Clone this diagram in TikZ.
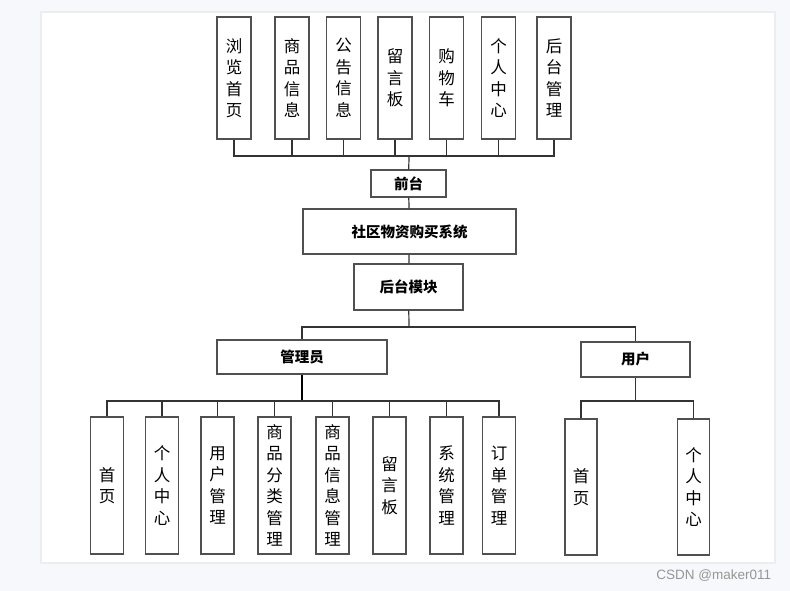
\documentclass[tikz,border=0pt]{standalone}
\usepackage{fontspec}
\setmainfont{Noto Sans CJK SC}
\setsansfont{Liberation Sans}
\usepackage{tikz}

\definecolor{pagebg}{RGB}{247,248,251}
\definecolor{boxline}{RGB}{80,80,80}
\definecolor{wmark}{RGB}{150,150,150}

\begin{document}
\begin{tikzpicture}[x=1pt,y=-1pt,line width=1.2pt,
    vbox/.style={draw=boxline,fill=white,minimum width=34pt,minimum height=122pt,
                 align=center,inner sep=0pt,font=\fontsize{16.5}{21.5}\selectfont},
    bbox/.style={vbox,minimum width=33pt,minimum height=137pt},
    hbox/.style={draw=boxline,fill=white,inner sep=0pt,font=\fontsize{14.5}{16}\selectfont\bfseries}]
      \fill[pagebg] (0,0) rectangle (790,591);
      \fill[white] (41,12) rectangle (775,563);
      \draw[black!7,line width=1.5pt] (41,12) rectangle (775,563);

      % front end
      \node[vbox] (t1) at (234,78)   {浏\\览\\首\\页};
      \node[vbox] (t2) at (292,78)   {商\\品\\信\\息};
      \node[vbox] (t3) at (343.5,78) {公\\告\\信\\息};
      \node[vbox] (t4) at (395,78)   {留\\言\\板};
      \node[vbox] (t5) at (446.5,78) {购\\物\\车};
      \node[vbox] (t6) at (498.5,78) {个\\人\\中\\心};
      \node[vbox] (t7) at (554,78)   {后\\台\\管\\理};

      \node[hbox,minimum width=75pt,minimum height=27pt]  (qt)  at (408.5,183.5) {前台};
      \node[hbox,minimum width=213pt,minimum height=45pt] (sys) at (409.5,231.5) {社区物资购买系统};
      \node[hbox,minimum width=109pt,minimum height=46pt] (hmk) at (408.5,287)   {后台模块};
      \node[hbox,minimum width=170pt,minimum height=34pt] (gly) at (302,357)     {管理员};
      \node[hbox,minimum width=109pt,minimum height=35pt] (yh)  at (635.5,359.5) {用户};

      % back end
      \node[bbox] (a1) at (107,485.5)   {首\\页};
      \node[bbox] (a2) at (162,485.5)   {个\\人\\中\\心};
      \node[bbox] (a3) at (217.5,485.5) {用\\户\\管\\理};
      \node[bbox] (a4) at (274.5,485.5) {商\\品\\分\\类\\管\\理};
      \node[bbox] (a5) at (332.5,485.5) {商\\品\\信\\息\\管\\理};
      \node[bbox] (a6) at (389.5,485.5) {留\\言\\板};
      \node[bbox] (a7) at (446.5,485.5) {系\\统\\管\\理};
      \node[bbox] (a8) at (499,485.5)   {订\\单\\管\\理};

      \node[bbox,minimum width=32pt,minimum height=136pt] (u1) at (581,487)   {首\\页};
      \node[bbox,minimum width=32pt,minimum height=136pt] (u2) at (693.5,487) {个\\人\\中\\心};

      \coordinate (topbus)   at (409,156);
      \coordinate (midbus)   at (409,327);
      \coordinate (adminbus) at (302,401);
      \coordinate (userbus)  at (635.5,401);

      \foreach \i in {1,...,7}
        \draw[black!80] (t\i.south) |- (topbus);
      \draw[black!80] (topbus) -- (qt);
      \draw[black!80] (qt) -- (sys);
      \draw[black!80] (sys) -- (hmk);
      \draw[black!80] (hmk) -- (midbus);
      \draw[black!80] (midbus) -| (gly);
      \draw[black!80] (midbus) -| (yh);

      \draw[line width=1.6pt] (gly) -- (adminbus);
      \foreach \i in {1,...,8}
        \draw[black!80] (adminbus) -| (a\i);
      \draw[black!80] (yh) -- (userbus);
      \draw[black!80] (userbus) -| (u1);
      \draw[black!80] (userbus) -| (u2);

      \node[anchor=east,text=wmark,font=\sffamily\fontsize{13.5}{15}\selectfont] (wm) at (775,576) {CSDN @maker011};
\end{tikzpicture}
\end{document}
